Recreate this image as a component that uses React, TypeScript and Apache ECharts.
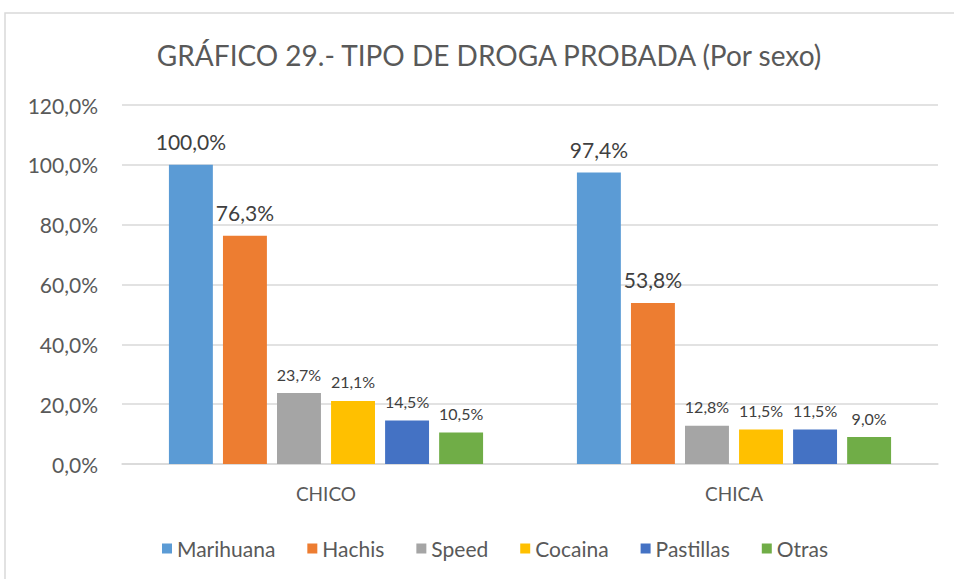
import React, { useEffect, useRef } from "react";
import * as echarts from "echarts";

const categories = ["CHICO", "CHICA"];
const seriesNames = ["Marihuana", "Hachis", "Speed", "Cocaina", "Pastillas", "Otras"];
const marihuana = [100.0, 97.4];
const hachis = [76.3, 53.8];
const speed = [23.7, 12.8];
const cocaina = [21.1, 11.5];
const pastillas = [14.5, 11.5];
const otras = [10.5, 9.0];
const yTicks = [0, 20, 40, 60, 80, 100, 120];

const colors = ["#5B9BD5", "#ED7D31", "#A5A5A5", "#FFC000", "#4472C4", "#70AD47"];
const labelSizes = [21, 21, 16, 16, 16, 16];
const FONT = "Lato, 'Open Sans', sans-serif";

const fmt = (v: number) => v.toFixed(1).replace(".", ",") + "%";

export default function App() {
  const ref = useRef<HTMLDivElement>(null);
  useEffect(() => {
    if (!ref.current) return;
    const chart = echarts.init(ref.current, undefined, { renderer: "svg" });
    const data = [marihuana, hachis, speed, cocaina, pastillas, otras];
    chart.setOption({
      animation: false,
      backgroundColor: "#ffffff",
      textStyle: { fontFamily: FONT },
      graphic: [
        {
          type: "rect",
          shape: { x: 5, y: 13, width: 1000, height: 700 },
          style: { fill: "none", stroke: "#d9d9d9", lineWidth: 1.5 },
          silent: true,
        },
        {
          type: "text",
          x: 489,
          y: 55,
          style: {
            text: "GRÁFICO 29.- TIPO DE DROGA PROBADA (Por sexo)",
            fontFamily: FONT,
            fontSize: 28,
            fill: "#595959",
            align: "center",
            verticalAlign: "middle",
          },
        },
      ],
      legend: {
        left: 157,
        top: 533,
        itemWidth: 10,
        itemHeight: 10,
        itemGap: 32,
        icon: "rect",
        textStyle: { fontFamily: FONT, fontSize: 21, color: "#595959" },
        data: seriesNames,
      },
      grid: { left: 122, right: 16, top: 105, bottom: 115, containLabel: false },
      xAxis: {
        type: "category",
        data: categories,
        axisTick: { show: false },
        axisLine: { lineStyle: { color: "#d9d9d9", width: 1.5 } },
        axisLabel: { fontFamily: FONT, fontSize: 19, color: "#595959", margin: 20 },
      },
      yAxis: {
        type: "value",
        min: yTicks[0],
        max: yTicks[yTicks.length - 1],
        interval: 20,
        axisLine: { show: false },
        axisTick: { show: false },
        splitLine: { lineStyle: { color: "#d9d9d9", width: 1.5 } },
        axisLabel: {
          fontFamily: FONT,
          fontSize: 21,
          color: "#595959",
          margin: 24,
          formatter: (v: number) => fmt(v),
        },
      },
      series: seriesNames.map((name, i) => ({
        name,
        type: "bar",
        data: data[i],
        barGap: "23%",
        barCategoryGap: "23%",
        itemStyle: { color: colors[i] },
        label: {
          show: true,
          position: "top",
          distance: labelSizes[i] > 18 ? 13 : 11,
          fontFamily: FONT,
          fontSize: labelSizes[i],
          color: "#404040",
          formatter: (p: any) => fmt(p.value),
        },
      })),
    });
    return () => chart.dispose();
  }, []);
  return (
    <div
      ref={ref}
      style={{ position: "fixed", left: 0, top: 0, width: 954, height: 579, background: "#fff" }}
    />
  );
}
